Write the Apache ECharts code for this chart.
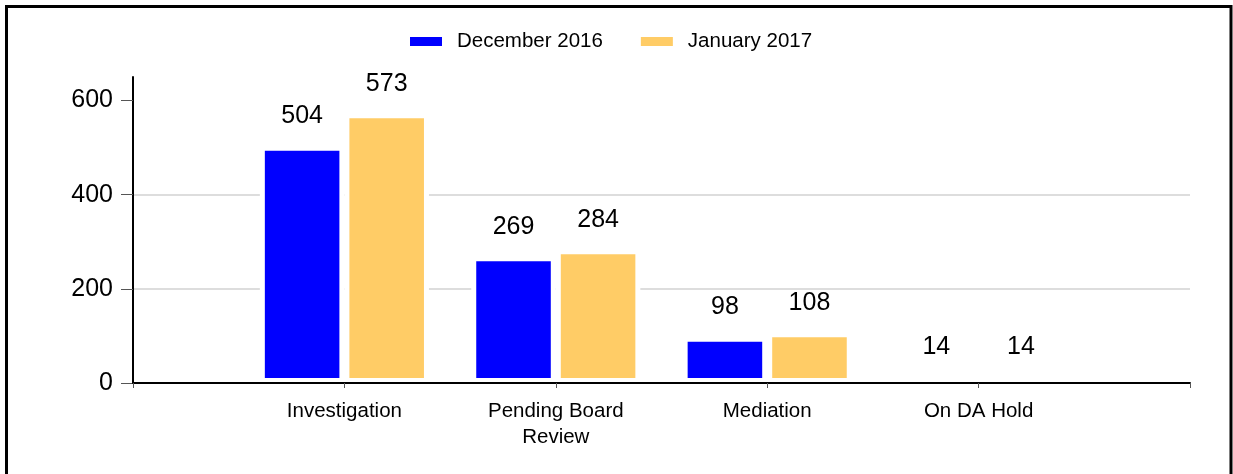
<!DOCTYPE html>
<html><head><meta charset="utf-8">
<script src="https://cdn.jsdelivr.net/npm/echarts@6/dist/echarts.min.js"></script>
<style>html,body{margin:0;padding:0;background:#fff}#c{width:1233px;height:474px}</style>
</head><body><div id="c"></div>
<script>
const categories = ['Investigation', 'Pending Board\nReview', 'Mediation', 'On DA Hold'];
const seriesNames = ['December 2016', 'January 2017'];
const dec2016 = [504, 269, 98, 14];
const jan2017 = [573, 284, 108, 14];
const yTicks = [0, 200, 400, 600];
const yMax = 650;

const FONT = '"Liberation Sans", Arial, sans-serif';
const pad = a => [null, ...a, null];
const xData = ['', ...categories, ''];

const labelStyle = {
  show: true, position: 'top', distance: 17,
  fontSize: 25, color: '#000', fontFamily: FONT
};

const chart = echarts.init(document.getElementById('c'), null, { renderer: 'canvas' });
chart.setOption({
  animation: false,
  backgroundColor: '#fff',
  textStyle: { fontFamily: FONT },
  graphic: [{
    type: 'rect', silent: true, z: 100,
    shape: { x: 6.5, y: 6.5, width: 1224.5, height: 490 },
    style: { fill: 'none', stroke: '#000', lineWidth: 3 }
  }],
  legend: {
    left: 403, top: 26,
    icon: 'rect', itemWidth: 34, itemHeight: 11, itemGap: 36,
    textStyle: { fontSize: 20.5, color: '#000', fontFamily: FONT, padding: [0, 0, 0, 9] },
    data: seriesNames
  },
  grid: { left: 133, right: 43, top: 77, bottom: 91, containLabel: false },
  xAxis: {
    type: 'category', boundaryGap: false, data: xData, z: 10,
    axisLine: { show: true, lineStyle: { color: '#000', width: 2 } },
    axisTick: { show: true, interval: 0, length: 5, lineStyle: { color: '#555', width: 1 } },
    axisLabel: { interval: 0, fontSize: 20.5, lineHeight: 26, margin: 15, color: '#000', fontFamily: FONT },
    splitLine: { show: false }
  },
  yAxis: {
    type: 'value', min: 0, max: yMax, interval: 200,
    axisLine: { show: true, lineStyle: { color: '#000', width: 2 } },
    axisTick: { show: true, customValues: yTicks, length: 12, lineStyle: { color: '#555', width: 1 } },
    axisLabel: { customValues: yTicks, fontSize: 25, margin: 20, color: '#000', fontFamily: FONT },
    splitLine: { show: true, showMaxLine: false, lineStyle: { color: '#dddddd', width: 2 } }
  },
  series: [
    {
      name: seriesNames[0], type: 'bar', data: pad(dec2016),
      barGap: '0%', barCategoryGap: '20%',
      itemStyle: { color: '#0000ff', borderColor: '#fff', borderWidth: 5 },
      label: labelStyle
    },
    {
      name: seriesNames[1], type: 'bar', data: pad(jan2017),
      barGap: '0%', barCategoryGap: '20%',
      itemStyle: { color: '#ffcc66', borderColor: '#fff', borderWidth: 5 },
      label: labelStyle
    }
  ]
});
</script></body></html>
